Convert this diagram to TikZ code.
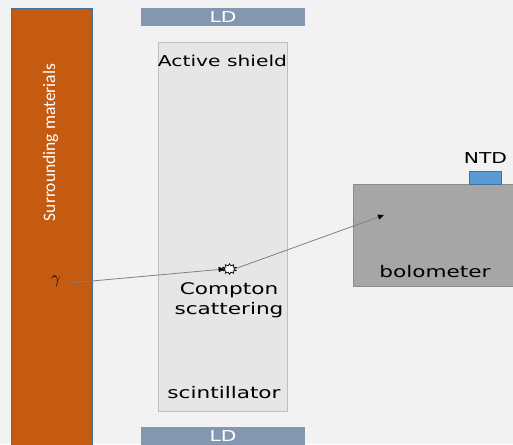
\documentclass[tikz,border=0pt]{standalone}
\usepackage{fontspec}
\usetikzlibrary{shapes.geometric,arrows.meta}
\newfontfamily\labfont[FakeStretch=1.35]{DejaVu Sans}
\newfontfamily\surrfont{Carlito}
\definecolor{bgc}{HTML}{F2F2F2}
\definecolor{orangec}{HTML}{C55A11}
\definecolor{bluec}{HTML}{41719C}
\definecolor{ldc}{HTML}{8497B0}
\definecolor{shieldc}{HTML}{E6E6E6}
\definecolor{shieldb}{HTML}{BFBFBF}
\definecolor{bolc}{HTML}{A6A6A6}
\definecolor{bolb}{HTML}{8C8C8C}
\definecolor{ntdc}{HTML}{5B9BD5}
\definecolor{linec}{HTML}{808080}
\tikzset{
  lab/.style={font=\labfont\fontsize{16}{18}\selectfont, text=black, inner sep=0pt},
  ldbox/.style={fill=ldc, draw=none},
  ldtext/.style={font=\labfont\fontsize{15}{17}\selectfont, text=white, inner sep=0pt},
  ray/.style={draw=linec, line width=0.8pt, -{Triangle[length=6pt,width=5pt,black]}},
}
\begin{document}
\begin{tikzpicture}[x=1pt,y=-1pt]
\fill[bgc] (0,0) rectangle (513,444);
\useasboundingbox (0,0) rectangle (513,444);
% surrounding materials
\draw[fill=orangec, draw=bluec, line width=0.6pt] (11,8) rectangle (92,446);
\node[rotate=90, font=\surrfont\fontsize{17.5}{19}\selectfont, text=white, inner sep=0pt] (surr) at (50.5,142.5) {Surrounding materials};
% LD bars
\path[ldbox] (141,8) rectangle (305,26.5);
\node[ldtext] (ldtop) at (223,17.5) {LD};
\path[ldbox] (141,426.5) rectangle (305,445);
\node[ldtext] (ldbot) at (223,436) {LD};
% active shield
\draw[fill=shieldc, draw=shieldb, line width=0.8pt] (158.5,42.5) rectangle (287,411.5);
\node[lab, font=\labfont\fontsize{15}{17}\selectfont, anchor=base] (as) at (222.5,66) {Active shield};
\node[lab, anchor=base] (comp1) at (229,294.5) {Compton};
\node[lab, anchor=base] (comp2) at (229,314) {scattering};
\node[lab, anchor=base] (scin) at (224,398) {scintillator};
% bolometer
\draw[fill=bolc, draw=bolb, line width=0.6pt] (353,184) rectangle (515,286);
\node[lab, anchor=base] (bol) at (435,277) {bolometer};
\draw[fill=ntdc, draw=bluec, line width=0.6pt] (469,171) rectangle (501,184);
\node[lab, font=\labfont\fontsize{15}{17}\selectfont, anchor=base] (ntd) at (485.5,163) {NTD};
% gamma
\node[font=\fontsize{17}{19}\selectfont, inner sep=0pt] (gam) at (56,281) {$\gamma$};
% burst
\node[star, star points=10, star point ratio=1.6, minimum size=14pt, inner sep=0pt, yscale=0.75, fill=white, draw=black, line width=0.7pt] (burst) at (229.5,269) {};
\coordinate (tip) at (384,215);
\draw[ray] (73,282.7) -- (burst.west);
\draw[ray] (burst.east) -- (tip);
\end{tikzpicture}
\end{document}
